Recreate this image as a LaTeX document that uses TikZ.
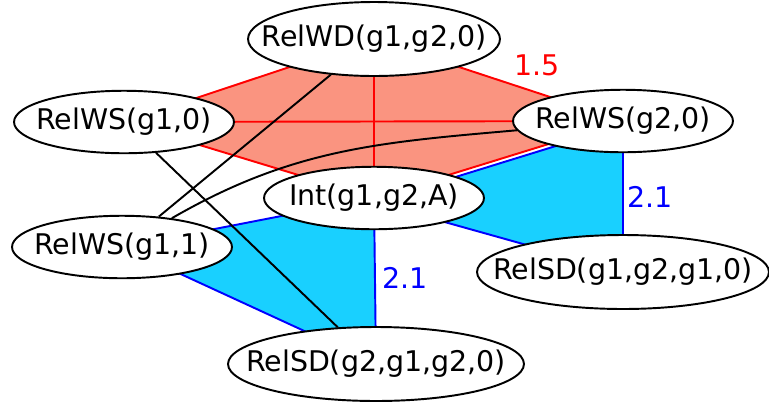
\documentclass[tikz,border=0pt]{standalone}
\usepackage{fontspec}
\setmainfont{DejaVu Sans}
\usetikzlibrary{shapes.geometric,backgrounds}
\definecolor{saumon}{RGB}{250,148,128}
\definecolor{ciel}{RGB}{25,208,255}
\newcommand{\etiq}[1]{\makebox[0pt]{#1}}
\tikzset{
  rel/.style={draw, ellipse, fill=white, inner sep=0pt, minimum width=4.4cm, minimum height=1.25cm},
  grand/.style={minimum width=5.04cm, minimum height=1.48cm},
  fort/.style={fill=saumon, draw=red, line width=1.1pt},
  faible/.style={fill=ciel, draw=blue, line width=1.1pt}
}

\begin{document}
\begin{tikzpicture}[x=0.02cm, y=-0.02cm, line width=1.1pt, font=\fontsize{16.2}{19}\selectfont]
  \useasboundingbox (0,0) rectangle (769,407);

  %NOEUDS
  \node[rel, grand] (wd) at (374,39) {\etiq{RelWD(g1,g2,0)}};
  \node[rel] (ws10) at (124,122) {\etiq{RelWS(g1,0)}};
  \node[rel] (ws20) at (623,121) {\etiq{RelWS(g2,0)}};
  \node[rel] (int) at (374,198) {\etiq{Int(g1,g2,A)}};
  \node[rel] (ws11) at (122,247) {\etiq{RelWS(g1,1)}};
  \node[rel, grand, minimum width=5.84cm] (sd1) at (623,272) {\etiq{RelSD(g1,g2,g1,0)}};
  \node[rel, grand, minimum width=5.92cm] (sd2) at (376,364) {\etiq{RelSD(g2,g1,g2,0)}};

  %HYPERARETES
  \begin{scope}[on background layer]
    \filldraw[faible] ([yshift=-2.4pt]int.center) -- ([yshift=-2.4pt]ws20.center) -- (sd1.center) -- cycle;
    \filldraw[faible] (ws11.center) -- (int.center) -- (sd2.center) -- cycle;
    \filldraw[fort] (wd.center) -- (ws20.center) -- (int.center) -- (ws10.center) -- cycle;
    \draw[fort] (wd) -- (int);
    \draw[fort] (ws10) -- (ws20);
  \end{scope}

  %POIDS
  \node[text=red] (p1) at (537,65) {1.5};
  \node[text=blue] (p2) at (650,197) {2.1};
  \node[text=blue] (p3) at (405,278) {2.1};

  %ARETES
  \draw (wd) -- (ws11);
  \draw (ws10) -- (sd2);
  \draw (ws11) to[out=30, in=185] (ws20);
\end{tikzpicture}
\end{document}
